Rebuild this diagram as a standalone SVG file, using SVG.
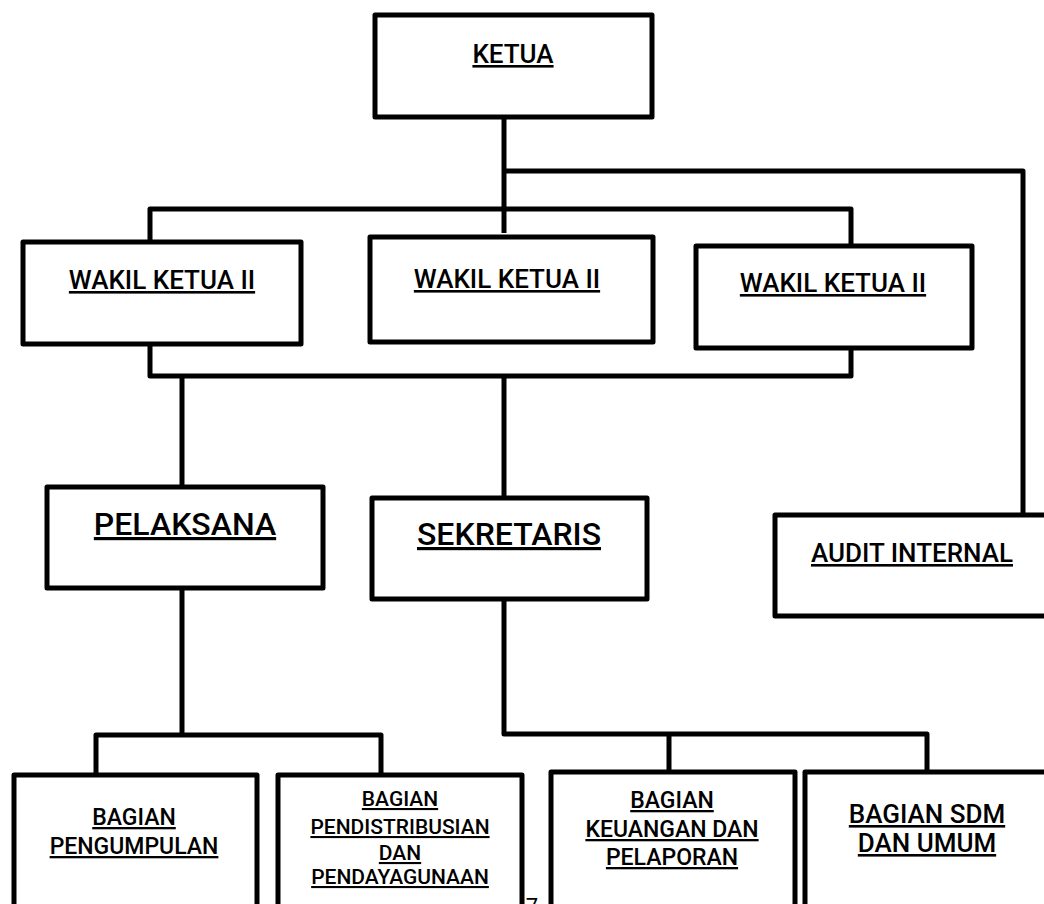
<svg xmlns="http://www.w3.org/2000/svg" width="1044" height="904" viewBox="0 0 1044 904">
<style>
.box{fill:#fff;stroke:#000;stroke-width:5;stroke-linejoin:round}
.ln{fill:none;stroke:#000;stroke-width:5;stroke-linejoin:round}
text{font-family:Roboto,"Liberation Sans",sans-serif;font-weight:500;fill:#000;text-anchor:middle;text-decoration:underline}
.t26{font-size:26px}.t32{font-size:32px}.t23{font-size:23px}.t21{font-size:21px}
</style>
<rect width="1044" height="904" fill="#fff"/>
<g id="connectors">
<path class="ln" d="M504,117 V233"/>
<path class="ln" d="M504,171 H1023 V513"/>
<path class="ln" d="M150,242 V209 H851 V246"/>
<path class="ln" d="M150,344 V376 H851 V348"/>
<path class="ln" d="M182,376 V487"/>
<path class="ln" d="M504,376 V498"/>
<path class="ln" d="M182,588 V735"/>
<path class="ln" d="M96,775 V735 H381 V775"/>
<path class="ln" d="M504,599 V734 H927 V772"/>
<path class="ln" d="M669,734 V772"/>
</g>
<g id="ketua"><rect class="box" x="375" y="15" width="277" height="102"/><text class="t26" x="513" y="63">KETUA</text></g>
<g id="wakil1"><rect class="box" x="23" y="242" width="278" height="102"/><text class="t26" x="162" y="289">WAKIL KETUA II</text></g>
<g id="wakil2"><rect class="box" x="370" y="237" width="283" height="105"/><text class="t26" x="507" y="288">WAKIL KETUA II</text></g>
<g id="wakil3"><rect class="box" x="696" y="246" width="276" height="102"/><text class="t26" x="833" y="292">WAKIL KETUA II</text></g>
<g id="pelaksana"><rect class="box" x="47" y="487" width="276" height="101"/><text class="t32" x="185" y="535">PELAKSANA</text></g>
<g id="sekretaris"><rect class="box" x="372" y="498" width="275" height="101"/><text class="t32" x="509" y="545">SEKRETARIS</text></g>
<g id="audit"><rect class="box" x="775" y="515" width="290" height="101"/><text class="t26" x="912" y="562">AUDIT INTERNAL</text></g>
<g id="bagian1"><rect class="box" x="14" y="775" width="243" height="200"/><text class="t23" x="134" y="825">BAGIAN</text><text class="t23" x="134" y="854">PENGUMPULAN</text></g>
<g id="bagian2"><rect class="box" x="278" y="775" width="244" height="200"/><text class="t21" x="400" y="806">BAGIAN</text><text class="t21" x="400" y="834">PENDISTRIBUSIAN</text><text class="t21" x="400" y="860">DAN</text><text class="t21" x="400" y="884">PENDAYAGUNAAN</text></g>
<g id="bagian3"><rect class="box" x="551" y="772" width="244" height="200"/><text class="t23" x="672" y="808">BAGIAN</text><text class="t23" x="672" y="837">KEUANGAN DAN</text><text class="t23" x="672" y="865">PELAPORAN</text></g>
<g id="bagian4"><rect class="box" x="805" y="772" width="260" height="200"/><text class="t26" x="927" y="823">BAGIAN SDM</text><text class="t26" x="927" y="852">DAN UMUM</text></g>
<text x="532" y="914" style="font-size:22px;font-weight:400;text-decoration:none">7</text>
</svg>
